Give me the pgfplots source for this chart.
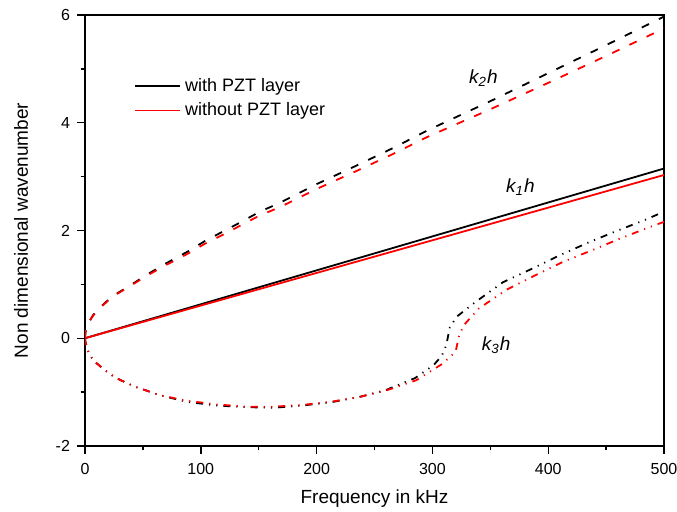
\documentclass[border=0pt]{standalone}
\usepackage{fontspec}
\setmainfont{Liberation Sans}
\usepackage{pgfplots}
\pgfplotsset{compat=1.18}

\begin{document}
\begin{tikzpicture}
\begin{axis}[
    scale only axis,
    width=289.5pt, height=215.5pt,
    xmin=0, xmax=500, ymin=-2, ymax=6,
    xtick={0,100,200,300,400,500},
    ytick={-2,0,2,4,6},
    minor x tick num=1, minor y tick num=1,
    xtick pos=bottom, ytick pos=left,
    tick align=outside,
    major tick length=4pt, minor tick length=2.2pt,
    every tick/.style={black, line width=0.7pt},
    axis line style={line width=0.8pt},
    /pgf/number format/assume math mode=true,
    ticklabel style={font=\fontsize{8}{9}\selectfont},
    xticklabel style={yshift=-1pt},
    label style={font=\fontsize{9.5}{11}\selectfont},
    xlabel={Frequency in kHz},
    ylabel={Non dimensional wavenumber},
    xlabel style={yshift=-1pt},
    ylabel style={yshift=7pt},
    legend style={at={(21.5pt,188pt)}, anchor=north west, draw=none, fill=none,
        font=\fontsize{9}{11}\selectfont, row sep=0pt},
    legend cell align=left,
    legend image code/.code={\draw[#1, line width=0.9pt] (0pt,0pt) -- (22.5pt,0pt);},
]
% k1h
\addplot[black, line width=0.9pt] coordinates {(0,0) (500,3.15)};
\addplot[red, line width=0.9pt] coordinates {(0,0) (500,3.03)};
\legend{with PZT layer, without PZT layer}

% k2h
\addplot[black, line width=0.9pt, dash pattern=on 4pt off 5.5pt] coordinates {
(0,0) (0.5,0.12) (2,0.23) (4,0.32) (7,0.43) (15,0.61) (23,0.77) (39,0.98) (55,1.20)
(70,1.39) (88,1.60) (104,1.81) (120,1.99) (135,2.16) (151,2.35) (168,2.51) (200,2.86)
(233,3.19) (265,3.52) (296,3.86) (350,4.40) (400,4.92) (450,5.44) (500,5.97)};
% k3h
\addplot[black, line width=0.9pt, dash pattern=on 3.5pt off 3pt on 0.6pt off 3pt on 0.6pt off 3pt] coordinates {
(0,0) (0.5,-0.08) (1.5,-0.15) (2.9,-0.25) (7,-0.41) (17,-0.59) (26,-0.73) (42,-0.89)
(65,-1.06) (88,-1.18) (114,-1.25) (140,-1.28) (163,-1.29) (187,-1.25) (212,-1.19)
(237,-1.09) (260,-0.96) (285,-0.74) (301,-0.50) (308,-0.33) (312,-0.13) (315,0.20)
(321,0.40) (337,0.67) (361,1.04) (386,1.29) (410,1.54) (435,1.78) (459,1.99) (484,2.20) (500,2.35)};

% without PZT layer
\addplot[red, line width=0.9pt, dash pattern=on 4pt off 5.5pt] coordinates {
(0,0) (0.5,0.12) (2,0.23) (4,0.32) (7,0.42) (15,0.60) (23,0.76) (39,0.97) (55,1.18)
(70,1.36) (88,1.56) (104,1.76) (120,1.93) (135,2.10) (151,2.28) (168,2.43) (200,2.77)
(233,3.09) (265,3.41) (296,3.74) (350,4.25) (400,4.74) (450,5.24) (500,5.75)};
\addplot[red, line width=0.9pt, dash pattern=on 3.5pt off 3pt on 0.6pt off 3pt on 0.6pt off 3pt] coordinates {
(0,0) (0.5,-0.08) (1.5,-0.15) (2.9,-0.25) (7,-0.41) (17,-0.59) (26,-0.73) (42,-0.89)
(65,-1.06) (88,-1.16) (114,-1.23) (140,-1.27) (163,-1.27) (187,-1.24) (212,-1.18)
(237,-1.09) (260,-0.97) (286,-0.78) (309,-0.47) (320,-0.25) (323,0.04) (327,0.24)
(340,0.55) (364,0.90) (389,1.17) (413,1.42) (437.5,1.63) (462,1.85) (486,2.05) (500,2.16)};

\node[font=\fontsize{9.5}{11}\selectfont\itshape] at (axis cs:344,4.82) {k\textsubscript{2}h};
\node[font=\fontsize{9.5}{11}\selectfont\itshape] at (axis cs:376,2.80) {k\textsubscript{1}h};
\node[font=\fontsize{9.5}{11}\selectfont\itshape] at (axis cs:355,-0.13) {k\textsubscript{3}h};
\end{axis}
\pgfresetboundingbox
\path ([shift={(-42.5pt,-33pt)}]current axis.south west) rectangle ([shift={(6.5pt,7.5pt)}]current axis.north east);
\end{tikzpicture}
\end{document}
